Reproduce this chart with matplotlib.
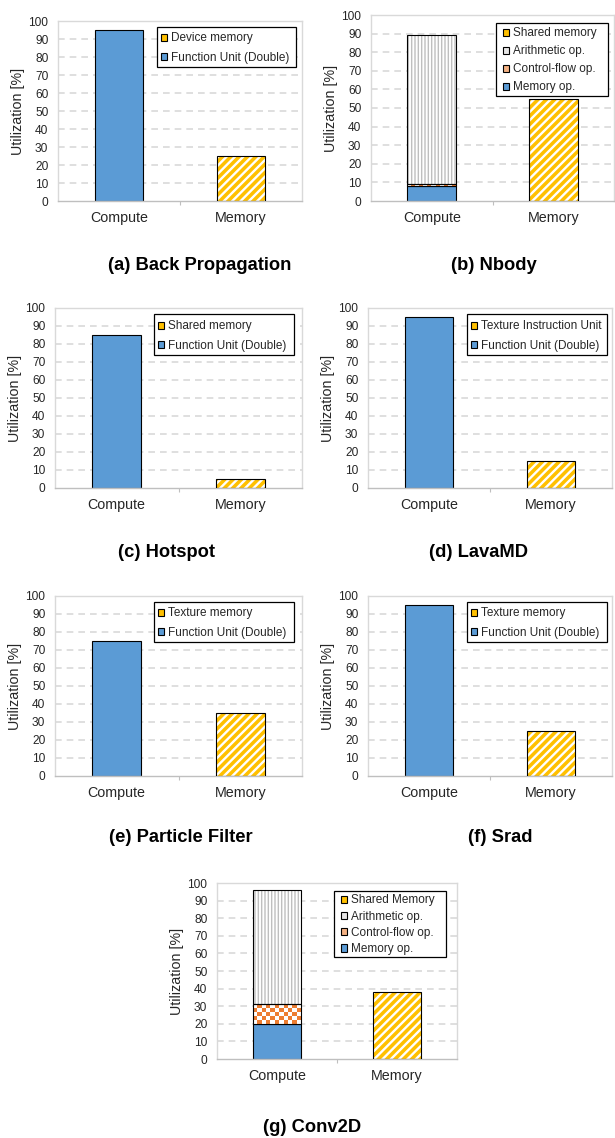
import matplotlib
matplotlib.use("Agg")
import numpy as np
import matplotlib.pyplot as plt
from matplotlib.patches import Patch, Rectangle
from matplotlib.colors import ListedColormap

plt.rcParams['font.family'] = ['Liberation Sans', 'DejaVu Sans']

# ---------------- data ----------------
categories = ["Compute", "Memory"]
yticks = [0, 10, 20, 30, 40, 50, 60, 70, 80, 90, 100]

single_titles = ["(a) Back Propagation", "(c) Hotspot", "(d) LavaMD", "(e) Particle Filter", "(f) Srad"]
single_compute = [95, 85, 95, 75, 95]
single_memory = [25, 5, 15, 35, 25]
single_mem_labels = ["Device memory", "Shared memory", "Texture Instruction Unit",
                     "Texture memory", "Texture memory"]
compute_label = "Function Unit (Double)"

stack_titles = ["(b) Nbody", "(g) Conv2D"]
stack_mem_op = [8, 20]
stack_ctrl_op = [1, 11]
stack_arith_op = [80.5, 65]
stack_memory = [55, 38]
stack_mem_labels = ["Shared memory", "Shared Memory"]
stack_labels = ["Arithmetic op.", "Control-flow op.", "Memory op."]

# ---------------- layout (pixels) ----------------
W, H = 615, 1138
fig = plt.figure(figsize=(W / 100, H / 100), dpi=100)

def px_axes(l, t, r, b):
    return fig.add_axes([l / W, 1 - b / H, (r - l) / W, (b - t) / H])

BLUE = '#5B9BD5'
YELLOW = '#FFC000'
ORANGE = '#ED7D31'
TXT = '#262626'
BW = 0.4
LEG_FS = 8.5
FS_PX = LEG_FS * 100 / 72

def hatched_bar(ax, x, h, bottom, face, hatch, hcolor, hlw):
    with plt.rc_context({'hatch.linewidth': hlw}):
        bars = ax.bar(x, h, BW, bottom=bottom, color=face, edgecolor=hcolor,
                      hatch=hatch, linewidth=0, zorder=2)
    for p in bars:
        if hasattr(p, 'set_hatch_linewidth'):
            p.set_hatch_linewidth(hlw)
    ax.bar(x, h, BW, bottom=bottom, fill=False, edgecolor='black', linewidth=0.8, zorder=3)

def checker_bar(ax, x, h, bottom, color, cell_px=4.2):
    bars = ax.bar(x, h, BW, bottom=bottom, color='white', linewidth=0, zorder=2)
    p = bars[0]
    x0, y0 = p.get_x(), p.get_y()
    x1, y1 = x0 + p.get_width(), y0 + p.get_height()
    (dx0, dy0), (dx1, dy1) = ax.transData.transform([(x0, y0), (x1, y1)])
    nx = max(1, int(round(abs(dx1 - dx0) / cell_px)))
    ny = max(1, int(round(abs(dy1 - dy0) / cell_px)))
    ii, jj = np.meshgrid(np.arange(nx), np.arange(ny))
    pattern = ((ii + jj) % 2).astype(float)
    cmap = ListedColormap(['white', color])
    im = ax.imshow(pattern, extent=(x0, x1, y0, y1), origin='lower', cmap=cmap,
                   interpolation='nearest', aspect='auto', zorder=2.5, vmin=0, vmax=1)
    im.set_clip_path(p)
    ax.bar(x, h, BW, bottom=bottom, fill=False, edgecolor='black', linewidth=0.8, zorder=3)

def style_axes(ax):
    ax.set_xlim(-0.5, 1.5)
    ax.set_ylim(0, 100)
    ax.set_yticks(yticks)
    ax.set_xticks([0, 1])
    ax.set_xticklabels(categories)
    ax.set_xticks([0.5], minor=True)
    ax.tick_params(axis='y', length=0, labelsize=8.6, pad=7, colors=TXT)
    ax.tick_params(axis='x', which='major', length=0, labelsize=10.3, pad=7, colors=TXT)
    ax.tick_params(axis='x', which='minor', length=3, width=0.8, color='#BFBFBF')
    for s in ['top', 'right', 'left']:
        ax.spines[s].set_color('#D9D9D9')
        ax.spines[s].set_linewidth(1.0)
    ax.spines['bottom'].set_color('#BFBFBF')
    ax.spines['bottom'].set_linewidth(1.0)
    for y in yticks[1:-1]:
        ax.axhline(y, color='#D9D9D9', linewidth=1.2, linestyle=(0, (4, 3)), zorder=0)
    ax.set_ylabel("Utilization [%]", fontsize=10.3, color=TXT)
    w_px = ax.get_position().width * W
    ax.yaxis.set_label_coords(-33.0 / w_px, 0.5)

def add_legend(ax, handles, labels, frame, text_left, first_y, pitch):
    l, t, r, b = frame
    rect = Rectangle((l / W, 1 - b / H), (r - l) / W, (b - t) / H,
                     transform=fig.transFigure, facecolor='white',
                     edgecolor='black', linewidth=0.9, zorder=4, clip_on=False)
    ax.add_artist(rect)
    text_h = 1.05 * FS_PX
    handle_len = 0.55
    handle_left = text_left - 10
    htp = (text_left - handle_left - handle_len * FS_PX) / FS_PX
    ls = (pitch - text_h) / FS_PX
    leg = ax.legend(handles, labels, loc='upper left',
                    bbox_to_anchor=(handle_left / W, 1 - (first_y + 1.5 - text_h / 2) / H),
                    bbox_transform=fig.transFigure, borderaxespad=0, borderpad=0,
                    fontsize=LEG_FS, frameon=False,
                    handlelength=handle_len, handleheight=0.55, handletextpad=htp,
                    labelspacing=ls)
    leg.set_zorder(6)
    for tx in leg.get_texts():
        tx.set_color(TXT)
    return leg

# single-compute charts: (a), (c), (d), (e), (f)
single_boxes = [(58, 21, 302, 201), (55, 308, 302, 488), (368, 308, 612, 488),
                (55, 596, 302, 776), (368, 596, 612, 776)]
single_leg_frame = [(157, 27, 296, 67), (154, 314, 294, 355), (467, 314, 607, 355),
                    (154, 602, 294, 642), (467, 602, 607, 642)]
single_leg_text = [(171, 37, 20), (168, 325, 20), (481, 325, 20), (168, 612, 20), (481, 612, 20)]
single_title_pos = [(200, 265), (167, 552), (479, 552), (181, 838), (500, 838)]

for i in range(len(single_titles)):
    ax = px_axes(*single_boxes[i])
    style_axes(ax)
    ax.bar(0, single_compute[i], BW, color=BLUE, edgecolor='black', linewidth=0.8, zorder=2)
    hatched_bar(ax, 1, single_memory[i], 0, YELLOW, '////', 'white', 1.7)
    handles = [Patch(facecolor=YELLOW, edgecolor='black', linewidth=0.8),
               Patch(facecolor=BLUE, edgecolor='black', linewidth=0.8)]
    add_legend(ax, handles, [single_mem_labels[i], compute_label],
               single_leg_frame[i], *single_leg_text[i])
    tx, ty = single_title_pos[i]
    fig.text(tx / W, 1 - ty / H, single_titles[i], ha='center', va='center',
             fontsize=13.2, fontweight='bold', color='black')

# stacked charts: (b), (g)
stack_boxes = [(371, 15, 614, 201), (217, 883, 457, 1059)]
stack_leg_frame = [(496, 23, 608, 96), (334, 891, 446, 957)]
stack_leg_text = [(513, 32, 18.4), (351, 899, 16.7)]
stack_title_pos = [(494, 265), (312, 1127)]

for i in range(len(stack_titles)):
    ax = px_axes(*stack_boxes[i])
    style_axes(ax)
    ax.bar(0, stack_mem_op[i], BW, color=BLUE, edgecolor='black', linewidth=0.8, zorder=2)
    checker_bar(ax, 0, stack_ctrl_op[i], stack_mem_op[i], ORANGE)
    hatched_bar(ax, 0, stack_arith_op[i], stack_mem_op[i] + stack_ctrl_op[i], 'white',
                '|||||', '#BFBFBF', 1.0)
    hatched_bar(ax, 1, stack_memory[i], 0, YELLOW, '////', 'white', 1.7)
    handles = [Patch(facecolor=YELLOW, edgecolor='black', linewidth=0.8),
               Patch(facecolor='#E7E6E6', edgecolor='black', linewidth=0.8),
               Patch(facecolor='#F4B183', edgecolor='black', linewidth=0.8),
               Patch(facecolor=BLUE, edgecolor='black', linewidth=0.8)]
    add_legend(ax, handles, [stack_mem_labels[i]] + stack_labels,
               stack_leg_frame[i], *stack_leg_text[i])
    tx, ty = stack_title_pos[i]
    fig.text(tx / W, 1 - ty / H, stack_titles[i], ha='center', va='center',
             fontsize=13.2, fontweight='bold', color='black')

fig.savefig("out.png", dpi=100)
